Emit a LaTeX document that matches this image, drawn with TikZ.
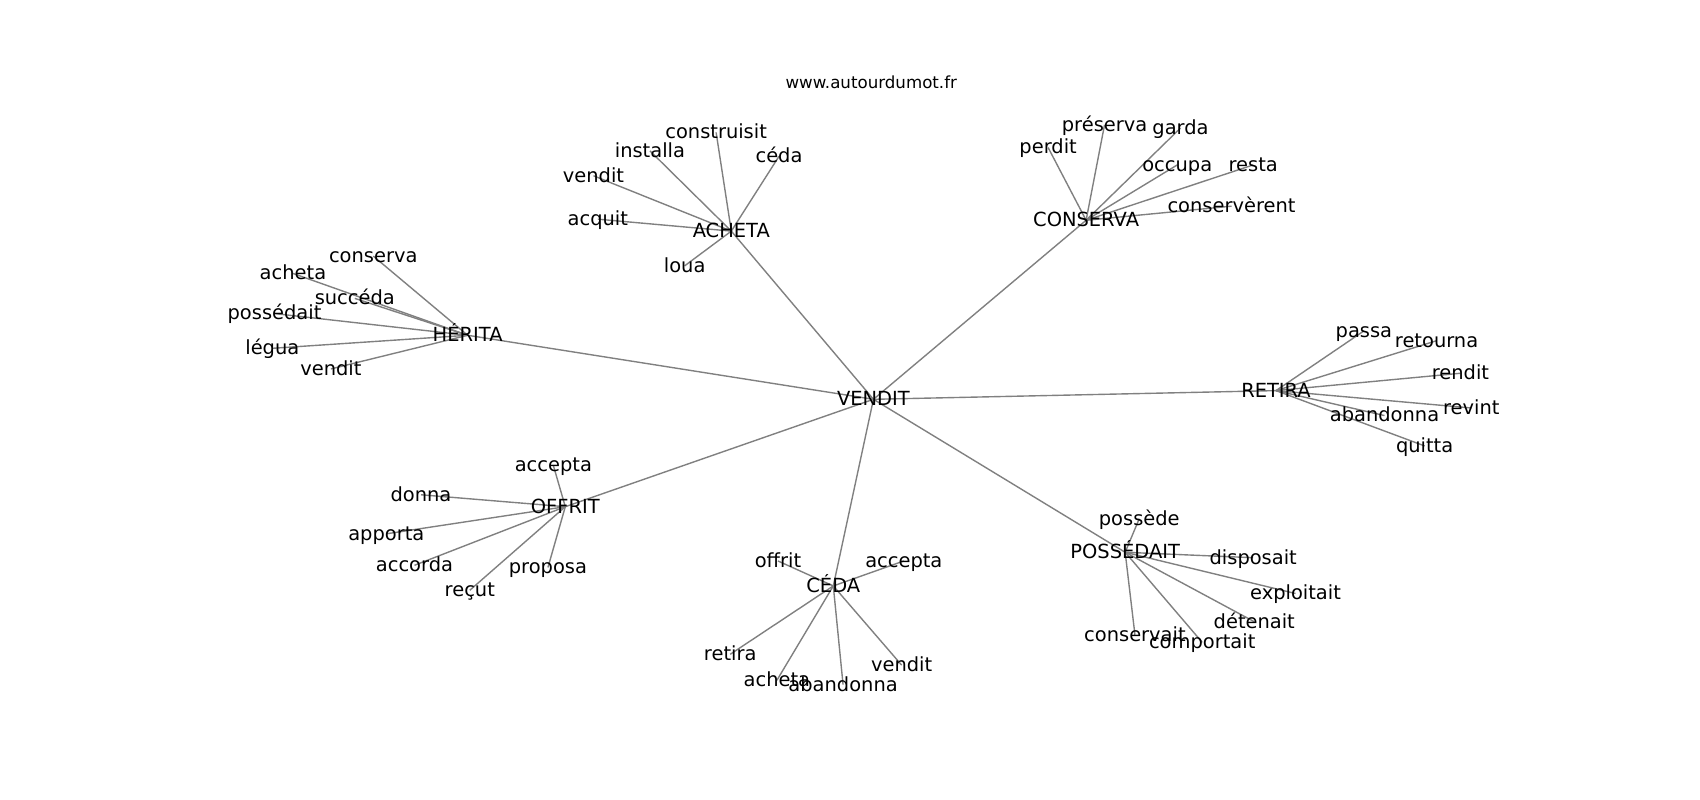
\documentclass[tikz,border=0pt]{standalone}
\usepackage{fontspec}
\setmainfont{DejaVu Sans}
\begin{document}
\begin{tikzpicture}[x=0.7813pt,y=-0.7813pt,
  lbl/.style={inner sep=0pt,outer sep=0pt,text height=0.76em,text depth=0.236em,yshift=-2pt,font=\fontsize{14}{16}\selectfont,text=black},
  edge/.style={draw=black!50,line width=1pt}]
\useasboundingbox[fill=white] (0,0) rectangle (1566.8,737.3);
\node[inner sep=0pt,font=\fontsize{12}{14}\selectfont] (title) at (803,76) {www.autourdumot.fr};
% hubs
\coordinate (vendit) at (805,368);
\coordinate (acheta) at (674,213);
\coordinate (conserva) at (1001,203);
\coordinate (herita) at (431,309);
\coordinate (retira) at (1176,360);
\coordinate (offrit) at (521,467);
\coordinate (ceda) at (768,540);
\coordinate (possedait) at (1037,509);
% ACHETA leaves
\coordinate (a1) at (660,122);
\coordinate (a2) at (599,139);
\coordinate (a3) at (547,162);
\coordinate (a4) at (551,202);
\coordinate (a5) at (718,144);
\coordinate (a6) at (631,245);
% CONSERVA leaves
\coordinate (c1) at (966,136);
\coordinate (c2) at (1018,115);
\coordinate (c3) at (1088,118);
\coordinate (c4) at (1085,152);
\coordinate (c5) at (1155,152);
\coordinate (c6) at (1135,190);
% HERITA leaves
\coordinate (h1) at (344,236);
\coordinate (h2) at (270,252);
\coordinate (h3) at (327,275);
\coordinate (h4) at (253,289);
\coordinate (h5) at (251,321);
\coordinate (h6) at (305,340);
% RETIRA leaves
\coordinate (r1) at (1257,305);
\coordinate (r2) at (1324,314);
\coordinate (r3) at (1346,344);
\coordinate (r4) at (1356,376);
\coordinate (r5) at (1276,383);
\coordinate (r6) at (1313,411);
% OFFRIT leaves
\coordinate (o1) at (510,429);
\coordinate (o2) at (388,456);
\coordinate (o3) at (356,492);
\coordinate (o4) at (382,521);
\coordinate (o5) at (433,544);
\coordinate (o6) at (505,523);
% CEDA leaves
\coordinate (d1) at (717,517);
\coordinate (d2) at (833,517);
\coordinate (d3) at (673,603);
\coordinate (d4) at (716,627);
\coordinate (d5) at (777,631);
\coordinate (d6) at (831,613);
% POSSEDAIT leaves
\coordinate (p1) at (1050,478);
\coordinate (p2) at (1155,514);
\coordinate (p3) at (1194,547);
\coordinate (p4) at (1156,573);
\coordinate (p5) at (1108,592);
\coordinate (p6) at (1046,585);
% edges
\foreach \h in {acheta,conserva,herita,retira,offrit,ceda,possedait}
  \draw[edge] (vendit) -- (\h);
\foreach \i in {1,...,6} {
  \draw[edge] (acheta) -- (a\i);
  \draw[edge] (conserva) -- (c\i);
  \draw[edge] (herita) -- (h\i);
  \draw[edge] (retira) -- (r\i);
  \draw[edge] (offrit) -- (o\i);
  \draw[edge] (ceda) -- (d\i);
  \draw[edge] (possedait) -- (p\i);
}
% labels
\node[lbl] (Lvendit) at (vendit) {VENDIT};
\node[lbl] (Lacheta) at (acheta) {ACHETA};
\node[lbl] (Lconserva) at (conserva) {CONSERVA};
\node[lbl] (Lherita) at (herita) {HÉRITA};
\node[lbl] (Lretira) at (retira) {RETIRA};
\node[lbl] (Loffrit) at (offrit) {OFFRIT};
\node[lbl] (Lceda) at (ceda) {CÉDA};
\node[lbl] (Lpossedait) at (possedait) {POSSÉDAIT};
\node[lbl] (La1) at (a1) {construisit};
\node[lbl] (La2) at (a2) {installa};
\node[lbl] (La3) at (a3) {vendit};
\node[lbl] (La4) at (a4) {acquit};
\node[lbl] (La5) at (a5) {céda};
\node[lbl] (La6) at (a6) {loua};
\node[lbl] (Lc1) at (c1) {perdit};
\node[lbl] (Lc2) at (c2) {préserva};
\node[lbl] (Lc3) at (c3) {garda};
\node[lbl] (Lc4) at (c4) {occupa};
\node[lbl] (Lc5) at (c5) {resta};
\node[lbl] (Lc6) at (c6) {conservèrent};
\node[lbl] (Lh1) at (h1) {conserva};
\node[lbl] (Lh2) at (h2) {acheta};
\node[lbl] (Lh3) at (h3) {succéda};
\node[lbl] (Lh4) at (h4) {possédait};
\node[lbl] (Lh5) at (h5) {légua};
\node[lbl] (Lh6) at (h6) {vendit};
\node[lbl] (Lr1) at (r1) {passa};
\node[lbl] (Lr2) at (r2) {retourna};
\node[lbl] (Lr3) at (r3) {rendit};
\node[lbl] (Lr4) at (r4) {revint};
\node[lbl] (Lr5) at (r5) {abandonna};
\node[lbl] (Lr6) at (r6) {quitta};
\node[lbl] (Lo1) at (o1) {accepta};
\node[lbl] (Lo2) at (o2) {donna};
\node[lbl] (Lo3) at (o3) {apporta};
\node[lbl] (Lo4) at (o4) {accorda};
\node[lbl] (Lo5) at (o5) {reçut};
\node[lbl] (Lo6) at (o6) {proposa};
\node[lbl] (Ld1) at (d1) {offrit};
\node[lbl] (Ld2) at (d2) {accepta};
\node[lbl] (Ld3) at (d3) {retira};
\node[lbl] (Ld4) at (d4) {acheta};
\node[lbl] (Ld5) at (d5) {abandonna};
\node[lbl] (Ld6) at (d6) {vendit};
\node[lbl] (Lp1) at (p1) {possède};
\node[lbl] (Lp2) at (p2) {disposait};
\node[lbl] (Lp3) at (p3) {exploitait};
\node[lbl] (Lp4) at (p4) {détenait};
\node[lbl] (Lp5) at (p5) {comportait};
\node[lbl] (Lp6) at (p6) {conservait};
\end{tikzpicture}
\end{document}
